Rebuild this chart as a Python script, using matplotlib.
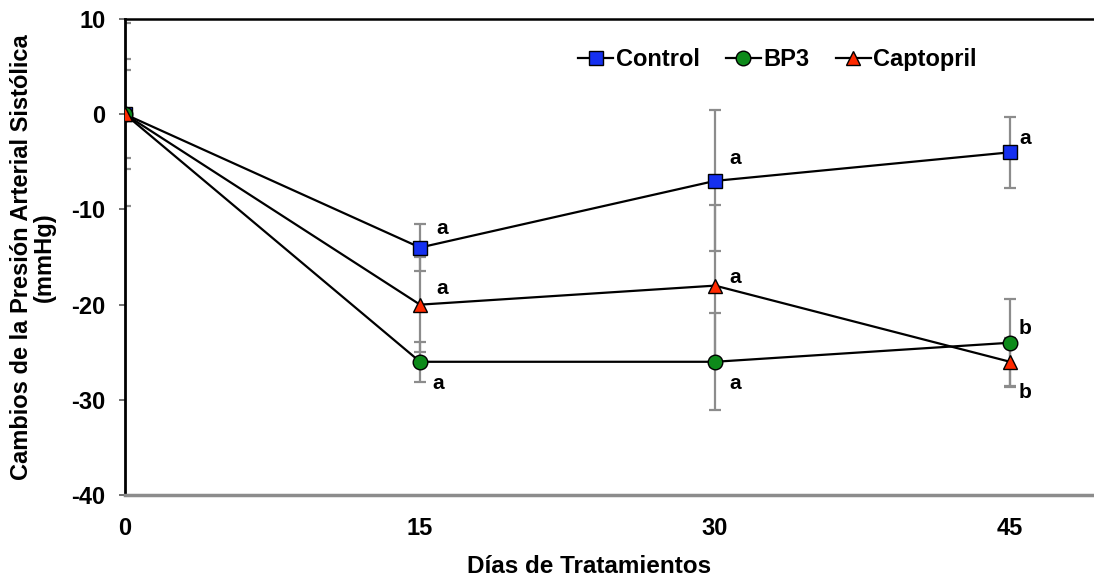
import matplotlib
matplotlib.use("Agg")
import matplotlib.pyplot as plt

plt.rcParams['font.family'] = ['Liberation Sans', 'DejaVu Sans']
plt.rcParams['font.weight'] = 'bold'
plt.rcParams['axes.unicode_minus'] = False

dias = [0, 15, 30, 45]

control = [0, -14, -7, -4]
control_err = [9.6, 2.5, 7.4, 3.7]
bp3 = [0, -26, -26, -24]
bp3_err = [5.8, 2.1, 5.1, 4.6]
captopril = [0, -20, -18, -26]
captopril_err = [4.6, 5.0, 8.5, 2.5]

letras_control = ['', 'a', 'a', 'a']
letras_bp3 = ['', 'a', 'a', 'b']
letras_capto = ['', 'a', 'a', 'b']

fig = plt.figure(figsize=(10.94, 5.77), dpi=100)
ax = fig.add_axes([0.1143, 0.142, 0.8857, 0.825])

series = [
    (control, control_err, 's', '#1530f0', 'Control', 9.5),
    (bp3, bp3_err, 'o', '#0d8a1a', 'BP3', 10.5),
    (captopril, captopril_err, '^', '#ff2a00', 'Captopril', 9.5),
]

# barras de error grises debajo de las lineas
for vals, err, m, c, lab, ms in series:
    ax.errorbar(dias, vals, yerr=err, fmt='none', ecolor='#8c8c8c',
                elinewidth=1.6, capsize=4, capthick=1.6, zorder=1)
for vals, err, m, c, lab, ms in series:
    ax.plot(dias, vals, color='black', lw=1.6, marker=m, ms=ms,
            mfc=c, mec='black', mew=1, label=lab, zorder=3)

# letras de significancia (desplazamiento en x, y respecto al punto)
dx = [0, 1.15, 1.0, 0.76]
off_control = [0, 2.0, 2.4, 1.5]
off_bp3 = [0, -2.3, -2.3, 1.5]
off_capto = [0, 1.7, 0.9, -3.2]
for i in range(1, 4):
    ax.text(dias[i] + dx[i], control[i] + off_control[i], letras_control[i],
            fontsize=15, ha='center', va='center')
    ax.text(dias[i] + dx[i], captopril[i] + off_capto[i], letras_capto[i],
            fontsize=15, ha='center', va='center')
    ax.text(dias[i] + dx[i] - (0.25 if i == 1 else 0), bp3[i] + off_bp3[i],
            letras_bp3[i], fontsize=15, ha='center', va='center')

ax.set_xlim(0, 49.27)
ax.set_ylim(-40, 10)
ax.set_xticks(dias)
ax.set_yticks([10, 0, -10, -20, -30, -40])
ax.tick_params(axis='x', length=0, pad=16, labelsize=17)
ax.tick_params(axis='y', length=4, width=1.3, color='#666666', pad=10, labelsize=17)
for lab in ax.get_xticklabels() + ax.get_yticklabels():
    lab.set_fontweight('bold')

ax.spines['left'].set_linewidth(2)
ax.spines['top'].set_linewidth(1.8)
ax.spines['bottom'].set_linewidth(2.5)
ax.spines['bottom'].set_color('#8c8c8c')
ax.spines['right'].set_visible(False)

ax.set_xlabel('Días de Tratamientos', fontsize=17.5, fontweight='bold', va='top')
ax.xaxis.set_label_coords(0.479, -0.125)
ax.set_ylabel('Cambios de la Presión Arterial Sistólica\n(mmHg)', fontsize=17,
              fontweight='bold', linespacing=1.0)
ax.yaxis.set_label_coords(-0.071, 0.5)

ax.legend(loc='center left', bbox_to_anchor=(0.4675, 0.915), ncol=3, frameon=False,
          handlelength=1.5, handletextpad=0.1, columnspacing=1.1, borderpad=0,
          borderaxespad=0, prop={'weight': 'bold', 'size': 17})

fig.savefig('out.png', dpi=100)
